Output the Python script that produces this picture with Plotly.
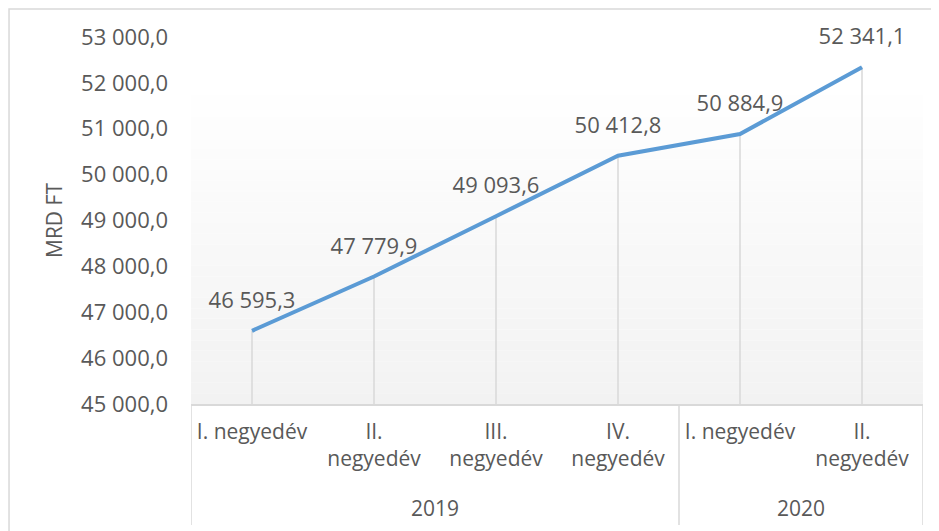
import plotly.graph_objects as go

# adatok
years = ["2019", "2019", "2019", "2019", "2020", "2020"]
quarters = ["I. negyedév", "II.<br>negyedév", "III.<br>negyedév",
            "IV.<br>negyedév", "I. negyedév", "II.<br>negyedév"]
values = [46595.3, 47779.9, 49093.6, 50412.8, 50884.9, 52341.1]
y_min, y_max = 45000, 53000

font_family = "Open Sans, Noto Sans, sans-serif"
txt_col = "#595959"
grey = "#d9d9d9"

idx = list(range(len(values)))

fig = go.Figure()

# drop lines (függőleges segédvonalak)
fig.add_trace(go.Scatter(
    x=idx, y=values, mode="markers",
    marker=dict(size=1, color="rgba(0,0,0,0)"),
    error_y=dict(type="data", symmetric=False, array=[0] * len(values),
                 arrayminus=[v - y_min for v in values],
                 color=grey, thickness=1.5, width=0),
    hoverinfo="skip", showlegend=False, cliponaxis=False,
))

fig.add_trace(go.Scatter(
    x=idx, y=values, mode="lines+markers+text",
    line=dict(color="#5b9bd5", width=4),
    marker=dict(size=26, color="rgba(0,0,0,0)"),
    texttemplate="%{y:,.1f}", textposition="top center",
    textfont=dict(size=22, color=txt_col, family=font_family),
    showlegend=False, cliponaxis=False,
))

# halvány színátmenet a rajzterület alján
n = 30
top = 0.87
shapes = []
for i in range(n):
    c = int(round(255 - (255 - 242) * (i + 0.5) / n))
    shapes.append(dict(type="rect", xref="x domain", yref="y domain",
                       x0=0, x1=1, y0=top - top * (i + 1) / n, y1=top - top * i / n,
                       fillcolor="rgb(%d,%d,%d)" % (c, c, c), line=dict(width=0),
                       layer="below"))

# évek: elválasztók és feliratok
cuts = [0] + [i for i in range(1, len(years)) if years[i] != years[i - 1]] + [len(years)]
for k in cuts:
    shapes.append(dict(type="line", xref="x", yref="y domain",
                       x0=k - 0.5, x1=k - 0.5, y0=0, y1=-0.33,
                       line=dict(color=grey, width=1.5)))
annotations = []
for a, b in zip(cuts[:-1], cuts[1:]):
    annotations.append(dict(x=(a + b - 1) / 2, y=-0.283, xref="x", yref="y domain",
                            text=years[a], showarrow=False, yanchor="middle",
                            font=dict(size=21, color=txt_col)))

# keret
shapes.append(dict(type="rect", xref="x domain", yref="y domain", x0=-0.2486, x1=1.05,
                   y0=-0.5, y1=1.0763, line=dict(color=grey, width=1.5),
                   fillcolor="rgba(0,0,0,0)", layer="below"))

fig.update_layout(
    width=931, height=523,
    margin=dict(l=183, r=16, t=29, b=127),
    paper_bgcolor="white", plot_bgcolor="white",
    separators=", ",
    font=dict(family=font_family, size=21, color=txt_col),
    shapes=shapes, annotations=annotations,
    xaxis=dict(
        range=[-0.5, len(values) - 0.5], tickvals=idx, ticktext=quarters,
        automargin=False, showgrid=False, zeroline=False, showline=True,
        linecolor=grey, linewidth=1.5, ticks="", ticklabelstandoff=8,
        tickfont=dict(size=21, color=txt_col),
    ),
    yaxis=dict(
        range=[y_min, y_max], dtick=1000, tickformat=",.1f", automargin=False,
        showgrid=False, zeroline=False, showline=False,
        tickfont=dict(size=22, color=txt_col),
        ticklabelstandoff=22,
        title=dict(text="MRD FT", font=dict(size=21, color=txt_col), standoff=12),
    ),
)

fig.write_html("out.html")
